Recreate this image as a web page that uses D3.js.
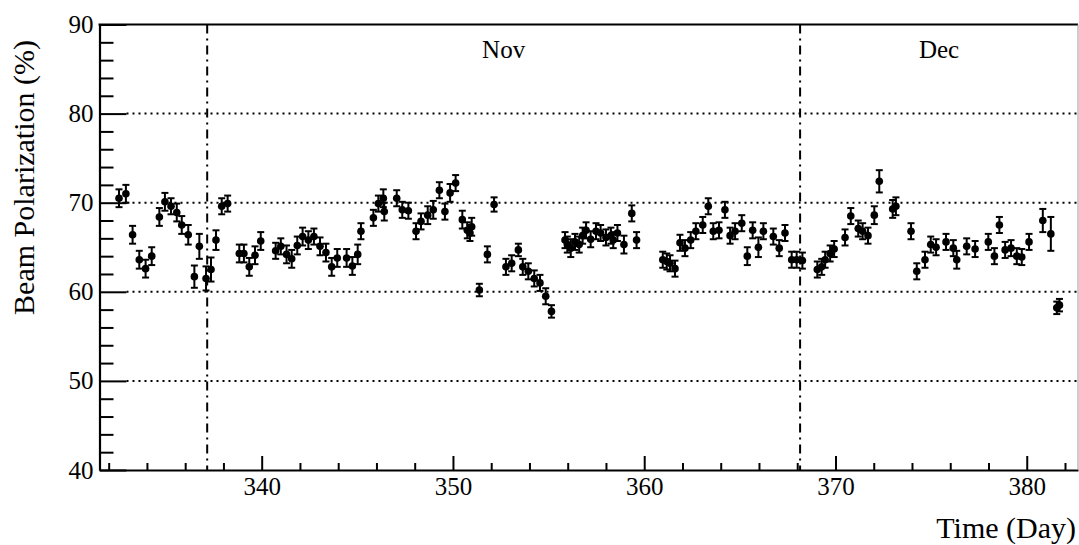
<!DOCTYPE html>
<html>
<head>
<meta charset="utf-8">
<script src="https://cdn.jsdelivr.net/npm/d3@7"></script>
<style>
  html, body { margin: 0; padding: 0; background: #fff; }
  svg { display: block; }
  text { font-family: "Liberation Serif", "Times New Roman", serif; fill: #000; }
</style>
</head>
<body>
<svg id="chart" width="1079" height="545"></svg>
<script>
// Measurement times (day of year) and beam polarization (%) with uncertainties
const days = [
  332.54, 332.90, 333.25, 333.60, 333.93, 334.25, 334.65, 334.94, 335.26, 335.56,
  335.82, 336.16, 336.48, 336.74, 337.09, 337.35, 337.61, 337.91, 338.22, 338.83,
  339.07, 339.35, 339.65, 339.95, 340.73, 341.00, 341.30, 341.57, 341.86, 342.14,
  342.44, 342.73, 343.05, 343.36, 343.66, 343.95, 344.44, 344.74, 345.02, 345.19,
  345.84, 346.10, 346.36, 346.41, 347.06, 347.35, 347.67, 348.07, 348.33, 348.68,
  348.97, 349.29, 349.58, 349.85, 350.14, 350.49, 350.75, 350.89, 350.98, 351.38,
  351.80, 352.15, 352.77, 353.07, 353.42, 353.65, 353.94, 354.25, 354.55, 354.85,
  355.15, 355.86, 355.98, 356.16, 356.38, 356.60, 356.78, 356.96, 357.20, 357.48,
  357.72, 358.00, 358.26, 358.38, 358.60, 358.94, 359.35, 359.60, 360.97, 361.18,
  361.35, 361.61, 361.87, 362.13, 362.43, 362.70, 363.06, 363.35, 363.61, 363.91,
  364.22, 364.49, 364.75, 365.10, 365.39, 365.67, 365.97, 366.23, 366.75, 367.06,
  367.36, 367.71, 367.97, 368.27, 369.05, 369.28, 369.46, 369.72, 369.93, 370.50,
  370.80, 371.19, 371.42, 371.70, 372.03, 372.29, 372.99, 373.16, 373.95, 374.25,
  374.68, 374.98, 375.26, 375.78, 376.16, 376.34, 376.86, 377.30, 377.99, 378.31,
  378.57, 378.87, 379.18, 379.48, 379.74, 380.12, 380.84, 381.26, 381.57, 381.71
];
const polarization = [
  70.5, 71.0, 66.4, 63.6, 62.6, 64.0, 68.4, 70.1, 69.6, 68.9,
  67.5, 66.4, 61.7, 65.1, 61.5, 62.5, 65.8, 69.6, 69.9, 64.3,
  64.3, 62.8, 64.1, 65.7, 64.6, 65.1, 64.2, 63.7, 65.2, 66.2,
  65.8, 66.2, 65.1, 64.4, 62.8, 63.8, 63.8, 62.9, 64.2, 66.8,
  68.3, 69.9, 70.5, 69.0, 70.5, 69.2, 69.1, 66.8, 67.9, 68.6,
  69.2, 71.4, 69.0, 71.1, 72.2, 68.1, 66.9, 66.6, 67.3, 60.2,
  64.2, 69.8, 62.8, 63.2, 64.7, 62.8, 62.3, 61.5, 61.0, 59.5,
  57.8, 65.8, 65.3, 64.9, 65.6, 65.3, 66.3, 66.9, 65.9, 66.8,
  66.6, 66.1, 66.3, 65.8, 66.6, 65.3, 68.8, 65.8, 63.6, 63.4,
  63.2, 62.6, 65.5, 64.9, 65.8, 66.8, 67.5, 69.6, 66.8, 66.9,
  69.2, 66.3, 66.8, 67.7, 64.0, 66.9, 65.0, 66.8, 66.2, 64.9,
  66.6, 63.6, 63.6, 63.5, 62.5, 62.8, 63.6, 64.3, 64.8, 66.1,
  68.5, 67.1, 66.8, 66.3, 68.6, 72.4, 69.3, 69.6, 66.8, 62.3,
  63.6, 65.3, 65.0, 65.6, 64.9, 63.6, 65.1, 64.8, 65.6, 64.0,
  67.5, 64.7, 64.9, 64.0, 63.9, 65.6, 68.0, 66.5, 58.2, 58.5
];
const errors = [
  1.0, 1.0, 1.0, 1.0, 1.0, 1.0, 1.0, 1.0, 0.9, 1.0,
  1.0, 1.1, 1.25, 1.4, 1.35, 1.35, 1.1, 0.9, 0.9, 1.0,
  1.0, 1.0, 1.0, 1.0, 0.9, 0.9, 1.0, 1.0, 1.0, 1.0,
  1.0, 0.9, 1.0, 1.0, 1.0, 1.0, 1.0, 1.0, 1.1, 0.9,
  0.9, 0.9, 1.0, 1.0, 0.9, 0.9, 0.9, 0.9, 0.9, 1.0,
  1.0, 0.9, 0.9, 1.0, 0.9, 1.0, 0.9, 0.9, 1.0, 0.7,
  0.9, 0.8, 0.9, 0.9, 0.7, 0.9, 0.9, 0.9, 0.9, 0.9,
  0.7, 0.9, 0.9, 1.0, 0.9, 0.9, 0.9, 0.9, 0.9, 0.9,
  0.9, 0.9, 0.9, 0.9, 0.9, 1.0, 0.9, 0.9, 0.9, 0.9,
  0.9, 0.9, 0.9, 0.9, 0.9, 0.9, 0.9, 0.9, 0.9, 0.9,
  0.9, 0.9, 0.9, 0.9, 1.0, 0.9, 1.1, 0.9, 0.9, 0.9,
  0.9, 0.9, 0.9, 0.9, 0.9, 0.9, 0.9, 0.9, 0.9, 0.9,
  0.9, 0.9, 0.9, 0.9, 1.0, 1.25, 1.0, 1.0, 0.9, 0.9,
  0.9, 0.9, 0.9, 0.9, 0.9, 1.0, 0.9, 0.9, 0.9, 0.9,
  0.9, 0.9, 0.9, 0.9, 0.9, 0.9, 1.3, 1.9, 0.7, 0.7
];

// Month boundaries (day of year) and labels
const monthNames = ["Nov", "Dec"];
const monthStarts = [337.15, 368.15];

// Axis tick values
const yMajorTicks = [40, 50, 60, 70, 80, 90];
const yGridLines = [50, 60, 70, 80];
const xMajorTicks = [340, 350, 360, 370, 380];

const xDomain = [331.52, 382.68];
const yDomain = [40, 90];

const svg = d3.select("#chart");
const plotLeft = 99.5, plotRight = 1078, plotTop = 24.5, plotBottom = 470;

const x = d3.scaleLinear().domain(xDomain).range([plotLeft, plotRight]);
const y = d3.scaleLinear().domain(yDomain).range([plotBottom, plotTop]);

const yMinorTicks = d3.range(42, 90, 2).filter(v => v % 10 !== 0);
const xMinorTicks = d3.range(332, 383, 2).filter(v => v % 10 !== 0);

// Horizontal dotted grid
svg.append("g")
  .selectAll("line")
  .data(yGridLines)
  .join("line")
  .attr("x1", plotLeft + 27).attr("x2", plotRight)
  .attr("y1", d => y(d)).attr("y2", d => y(d))
  .attr("stroke", "#000")
  .attr("stroke-width", 2)
  .attr("stroke-dasharray", "2,4");

// Month boundaries (dash-dot)
svg.append("g")
  .selectAll("line")
  .data(monthStarts)
  .join("line")
  .attr("x1", d => x(d)).attr("x2", d => x(d))
  .attr("y1", plotTop).attr("y2", plotBottom)
  .attr("stroke", "#000")
  .attr("stroke-width", 2)
  .attr("stroke-dasharray", "9,5,2,5");

// Month labels, centred in each month's visible span
const monthEnds = monthStarts.slice(1).concat([xDomain[1]]);
svg.append("g")
  .selectAll("text")
  .data(monthNames)
  .join("text")
  .attr("x", (d, i) => x((monthStarts[i] + monthEnds[i]) / 2))
  .attr("y", 57.5)
  .attr("text-anchor", "middle")
  .attr("font-size", 25)
  .text(d => d);

// Left axis: major ticks with labels, minor ticks
const yAxis = svg.append("g")
  .attr("transform", `translate(${plotLeft},0)`)
  .call(d3.axisLeft(y).tickValues(yMajorTicks).tickSizeInner(-27).tickSizeOuter(0).tickPadding(6).tickFormat(d3.format("d")));
yAxis.attr("font-family", null);
yAxis.selectAll("text").attr("font-size", 25);
svg.append("g")
  .attr("transform", `translate(${plotLeft},0)`)
  .call(d3.axisLeft(y).tickValues(yMinorTicks).tickSizeInner(-14).tickSizeOuter(0).tickFormat(""))
  .call(g => g.select(".domain").remove());

// Bottom axis: major ticks with labels, minor ticks
const xAxis = svg.append("g")
  .attr("transform", `translate(0,${plotBottom})`)
  .call(d3.axisBottom(x).tickValues(xMajorTicks).tickSizeInner(-14).tickSizeOuter(0).tickPadding(7).tickFormat(d3.format("d")));
xAxis.attr("font-family", null);
xAxis.selectAll("text").attr("font-size", 25);
svg.append("g")
  .attr("transform", `translate(0,${plotBottom})`)
  .call(d3.axisBottom(x).tickValues(xMinorTicks).tickSizeInner(-7).tickSizeOuter(0).tickFormat(""))
  .call(g => g.select(".domain").remove());

svg.selectAll(".domain").attr("stroke-width", 2.2);
svg.selectAll(".tick line").attr("stroke-width", 2);

// Frame: top border and faint right edge
svg.append("line")
  .attr("x1", plotLeft - 1).attr("x2", plotRight).attr("y1", plotTop).attr("y2", plotTop)
  .attr("stroke", "#000").attr("stroke-width", 2.2);
svg.append("line")
  .attr("x1", plotRight).attr("x2", plotRight).attr("y1", plotTop).attr("y2", plotBottom)
  .attr("stroke", "#999").attr("stroke-width", 1);

// Data points with error bars
const pts = days.map((d, i) => ({ day: d, pol: polarization[i], err: errors[i] }));
const marks = svg.append("g").selectAll("g").data(pts).join("g");
marks.append("line")
  .attr("x1", d => x(d.day)).attr("x2", d => x(d.day))
  .attr("y1", d => y(d.pol - d.err)).attr("y2", d => y(d.pol + d.err))
  .attr("stroke", "#000").attr("stroke-width", 2);
marks.selectAll(".cap")
  .data(d => [d.pol - d.err, d.pol + d.err].map(v => ({ day: d.day, v })))
  .join("line")
  .attr("class", "cap")
  .attr("x1", d => x(d.day) - 3.5).attr("x2", d => x(d.day) + 3.5)
  .attr("y1", d => y(d.v)).attr("y2", d => y(d.v))
  .attr("stroke", "#000").attr("stroke-width", 2);
marks.append("circle")
  .attr("cx", d => x(d.day)).attr("cy", d => y(d.pol))
  .attr("r", 3.8)
  .attr("fill", "#000");

// Axis titles
svg.append("text")
  .attr("transform", "translate(33.5,40) rotate(-90)")
  .attr("text-anchor", "end")
  .attr("font-size", 30)
  .text("Beam Polarization (%)");
svg.append("text")
  .attr("x", 1076).attr("y", 537.5)
  .attr("text-anchor", "end")
  .attr("font-size", 30)
  .text("Time (Day)");
</script>
</body>
</html>
